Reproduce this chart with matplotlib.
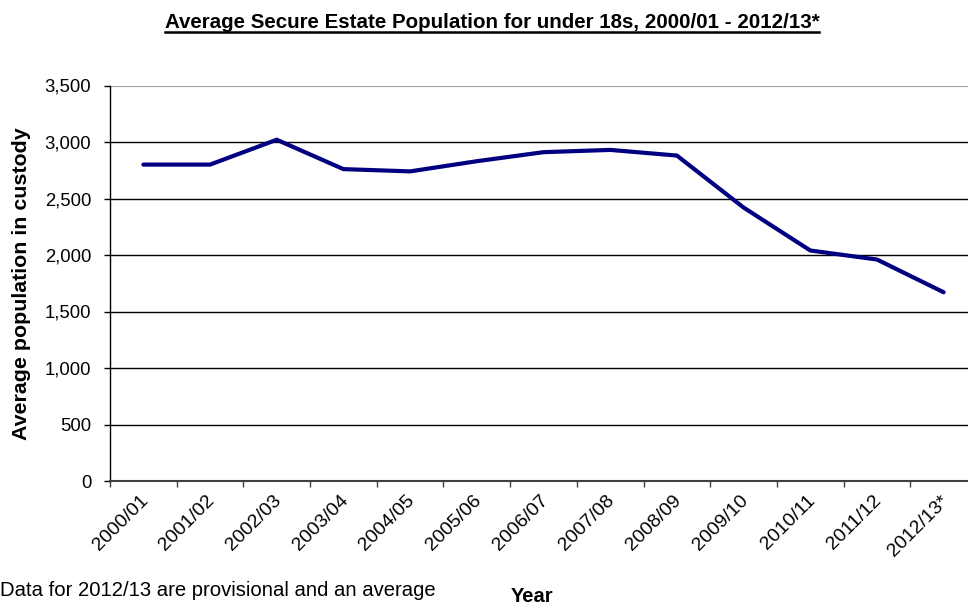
import matplotlib
matplotlib.use("Agg")
import matplotlib.pyplot as plt
from matplotlib.lines import Line2D
from matplotlib.transforms import ScaledTranslation
import numpy as np

plt.rcParams["font.family"] = ["Liberation Sans", "DejaVu Sans"]

years = ["2000/01", "2001/02", "2002/03", "2003/04", "2004/05", "2005/06",
         "2006/07", "2007/08", "2008/09", "2009/10", "2010/11", "2011/12",
         "2012/13*"]
population = [2800, 2800, 3020, 2760, 2740, 2830, 2910, 2930, 2880,
              2420, 2040, 1960, 1670]
y_ticks = [0, 500, 1000, 1500, 2000, 2500, 3000, 3500]

W, H = 968, 606
fig = plt.figure(figsize=(W / 100, H / 100), dpi=100)

# plot area: category axis runs past the right edge of the figure
left, right, top, bottom = 110, 977, 85.5, 481
ax = fig.add_axes([left / W, (H - bottom) / H, (right - left) / W, (bottom - top) / H])

x = np.arange(len(years))
ax.plot(x, population, color="#000080", lw=3, solid_joinstyle="miter",
        solid_capstyle="round", zorder=3)

ax.set_xlim(-0.5, len(years) - 0.5)
ax.set_ylim(0, 3500)

# horizontal gridlines
for v in y_ticks[1:-1]:
    ax.axhline(v, color="black", lw=1, zorder=1)
ax.axhline(3500, color="#a0a0a0", lw=1.5, zorder=1)

for s in ["top", "right"]:
    ax.spines[s].set_visible(False)
ax.spines["left"].set_color("black")
ax.spines["left"].set_linewidth(1)
ax.spines["bottom"].set_color("#404040")
ax.spines["bottom"].set_linewidth(1.5)

ax.set_yticks(y_ticks)
ax.set_yticklabels([f"{v:,}" for v in y_ticks])
ax.tick_params(axis="y", direction="out", length=4.5, width=1, pad=9,
               labelsize=13.3, colors="black")

# labels at category centres, tick marks at category boundaries
ax.set_xticks(x)
ax.set_xticklabels(years, rotation=45, ha="right", va="top",
                   rotation_mode="anchor")
ax.tick_params(axis="x", which="major", length=0, pad=8, labelsize=14)
shift = ScaledTranslation(-4 / 100, 0, fig.dpi_scale_trans)
for lab in ax.get_xticklabels():
    lab.set_transform(lab.get_transform() + shift)
ax.set_xticks(np.arange(len(years)) - 0.5, minor=True)
ax.tick_params(axis="x", which="minor", direction="out", length=4.5,
               width=1, color="#404040")

ax.set_ylabel("Average population in custody", fontsize=15.4,
              fontweight="bold", labelpad=10)

fig.text(532 / W, 1 - 596 / H, "Year", fontsize=14.5, fontweight="bold",
         ha="center", va="center")
fig.text(0, 1 - 590 / H, "Data for 2012/13 are provisional and an average",
         fontsize=14.6, ha="left", va="center")

title = fig.text(492 / W, 1 - 23 / H,
                 "Average Secure Estate Population for under 18s, 2000/01 - 2012/13*",
                 fontsize=14.75, fontweight="bold", ha="center", va="center")

# underline the title
fig.canvas.draw()
bb = title.get_window_extent(fig.canvas.get_renderer())
uy = (bb.y0 + 0.5) / H
fig.add_artist(Line2D([bb.x0 / W, bb.x1 / W], [uy, uy], color="black", lw=1.8,
                      transform=fig.transFigure))

fig.savefig("out.png", dpi=100)
